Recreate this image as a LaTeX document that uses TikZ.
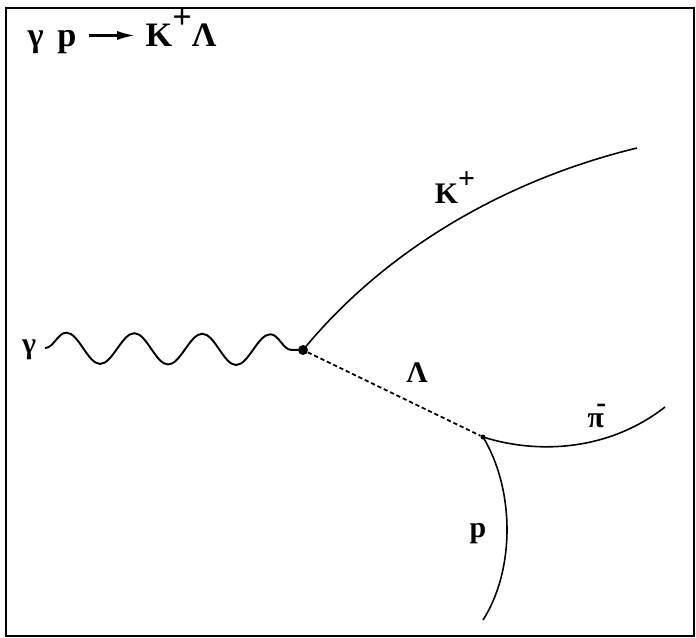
\documentclass[tikz,border=0pt]{standalone}
\usepackage{fontspec}
\setmainfont{Liberation Serif}
\usepackage{tikz}
\usetikzlibrary{arrows.meta,positioning,calc,decorations.pathmorphing}
\tikzset{
  track/.style={draw=black, line width=0.9pt},
  lamtrack/.style={draw=black, line width=1pt, dash pattern=on 2.4pt off 1.6pt},
  photon/.style={draw=black, line width=1.1pt, decorate, decoration={snake, amplitude=0.31cm, segment length=1.36cm, post length=0.2cm}},
  vdot/.style={circle, fill=black, minimum size=0.2cm, inner sep=0pt},
  sdot/.style={circle, fill=black, minimum size=0.1cm, inner sep=0pt},
  frame/.style={draw=black, line width=1.3pt},
  titlearrow/.style={-{Latex[length=3.5mm,width=1.8mm]}, line width=1.2pt}
}
\newcommand{\supplus}{\raisebox{0.5em}{+}}

\begin{document}
\begin{tikzpicture}[x=0.02cm, y=-0.02cm, lbl/.style={font=\fontsize{17}{20}\selectfont\bfseries, inner sep=0pt},
  ttl/.style={font=\fontsize{19.5}{22}\selectfont\bfseries, inner sep=0pt}]
\useasboundingbox (0,0) rectangle (696,637);
\draw[frame] (6,8) rectangle (694,636);
% reaction
\node[ttl, anchor=base] (reac) at (52,46) {γ\hspace{0.4em}p};
\node[ttl, anchor=base] (prod) at (181,46) {K\supplus Λ};
\coordinate (arrs) at ([xshift=7pt,yshift=6pt]reac.base east);
\coordinate (arre) at ([xshift=-6pt]arrs -| prod.west);
\draw[titlearrow] (arrs) -- (arre);
% vertices
\node[vdot] (vtx) at (303,350) {};
\node[sdot] (dec) at (483,437) {};
\coordinate (wstart) at (45,348);
\coordinate (kend) at (637,148);
\coordinate (piend) at (665,407);
\coordinate (pend) at (483,620);
% tracks
\draw[photon] (wstart) -- (vtx.center);
\draw[track] (vtx.center) .. controls (385,250) and (505,180) .. (kend);
\draw[lamtrack] (vtx) -- (dec);
\draw[track] (dec.center) .. controls (540,455) and (610,450) .. (piend);
\draw[track] (dec.center) .. controls (515,490) and (515,570) .. (pend);
% labels
\node[lbl, anchor=base] (lgam) at (29,353) {γ};
\node[lbl, anchor=base] (lkp) at (455,203) {K\supplus};
\node[lbl, anchor=base] (llam) at (417,382) {Λ};
\node[lbl, anchor=base] (lpi) at (597,427) {π\kern-0.25em\raisebox{0.5em}{-}};
\node[lbl, anchor=base] (lp) at (478,537) {p};
\end{tikzpicture}
\end{document}
